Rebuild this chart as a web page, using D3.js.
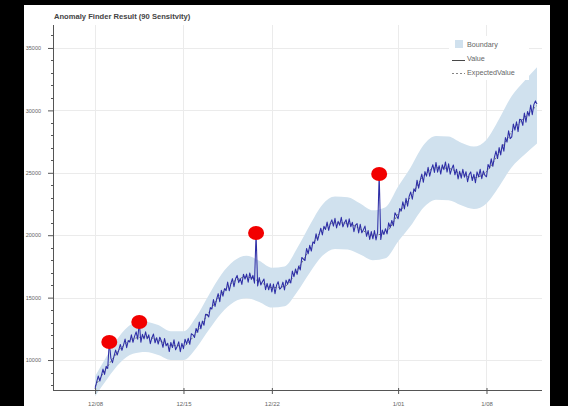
<!DOCTYPE html>
<html>
<head>
<meta charset="utf-8">
<script src="https://cdn.jsdelivr.net/npm/d3@7"></script>
<style>
  html, body { margin: 0; padding: 0; background: #000; }
  svg { display: block; }
  text { font-family: "Liberation Sans", Arial, Helvetica, sans-serif; }
</style>
</head>
<body>
<svg id="chart" width="568" height="406"></svg>
<script>
// Observed values, one every 3 hours from 2018-12-08 00:00 (one row per day)
const values = [
  7700, 8250, 8720, 8320, 8760, 9280, 8850, 9500,
  9320, 11440, 10150, 9790, 10320, 10800, 10400, 10800,
  11250, 10780, 11190, 11680, 10990, 11560, 11440, 12020,
  11420, 11900, 12260, 11670, 13050, 11420, 12060, 11690,
  12260, 11700, 12020, 11310, 11790, 12080, 11380, 11790,
  11280, 11830, 11530, 11020, 11730, 11140, 11350, 10680,
  11410, 11000, 11620, 10820, 11090, 11460, 10670, 11340,
  10910, 11670, 11300, 11740, 11260, 12110, 12020, 11810,
  12530, 12220, 13050, 12500, 13120, 12790, 13660, 13640,
  13450, 14200, 14090, 14840, 14290, 14870, 15320, 14670,
  15580, 15120, 15720, 15560, 16250, 15550, 16110, 16520,
  15880, 16510, 16780, 16200, 16530, 16060, 16870, 16490,
  16890, 16230, 16980, 16460, 16780, 16160, 20180, 15940,
  16610, 16020, 16270, 16490, 15640, 16140, 15630, 16120,
  15450, 16090, 15310, 16000, 16270, 15670, 15820, 16240,
  15620, 16400, 16080, 16480, 16170, 17130, 16680, 17300,
  16870, 17530, 17220, 18220, 18090, 17970, 18940, 18510,
  19190, 18730, 19460, 19340, 20120, 19590, 20090, 20560,
  20020, 20720, 20460, 21050, 20390, 20930, 21230, 20730,
  21350, 20580, 21110, 20800, 21440, 20670, 21000, 21240,
  20650, 21310, 20680, 21030, 20280, 20800, 20930, 20180,
  20880, 20190, 20440, 20730, 19910, 20370, 19660, 20290,
  19710, 20370, 19620, 20230, 24900, 19650, 20410, 20060,
  20520, 20110, 20990, 20620, 21180, 20750, 21800, 21570,
  21320, 22140, 21940, 22680, 22110, 22960, 22330, 23120,
  23460, 22880, 23720, 23510, 24410, 23770, 24390, 24900,
  24240, 25100, 24730, 25440, 24730, 25260, 25650, 25030,
  25830, 25050, 25570, 24900, 25640, 25250, 25870, 25060,
  25720, 24890, 25330, 25630, 24840, 25290, 24510, 25120,
  24570, 25280, 24650, 25090, 24280, 24860, 25070, 24380,
  24880, 24200, 25080, 24670, 25280, 24530, 25140, 24790,
  24680, 25670, 25390, 26120, 25520, 26240, 26740, 26140,
  27020, 26430, 27270, 26730, 27820, 27460, 28360, 27740,
  27880, 28910, 28420, 29090, 28300, 29280, 29250, 28800,
  29790, 29060, 29910, 29550, 30420, 29650, 30460, 30760,
  30500
];

// Daily expected value and boundary, from 2018-12-08 to 2019-01-12
const expected = [
  7900, 9500, 10900, 11700, 11850, 11600, 11150, 11150, 12200, 13800,
  15300, 16300, 16650, 16300, 15800, 15900, 17200, 18900, 20400, 21000,
  20950, 20500, 20000, 20200, 21700, 23100, 24700, 25400, 25350, 24900,
  24600, 25100, 26600, 28300, 29400, 30400
];
const upper = [
  8700, 10450, 12000, 12900, 13050, 12800, 12300, 12300, 13450, 15200,
  16850, 17950, 18350, 17950, 17400, 17500, 18950, 20800, 22450, 23100,
  23050, 22550, 22000, 22250, 23900, 25450, 27200, 27950, 27900, 27400,
  27100, 27650, 29300, 31150, 32350, 33450
];
const lower = [
  7100, 8550, 9800, 10500, 10650, 10400, 10000, 10000, 10950, 12400,
  13750, 14650, 14950, 14650, 14200, 14300, 15450, 17000, 18350, 18900,
  18850, 18450, 18000, 18150, 19500, 20750, 22200, 22850, 22800, 22400,
  22100, 22550, 23900, 25450, 26450, 27350
];

// Points flagged as anomalies
const anomalyTimes = ["2018-12-09T03:00", "2018-12-11T12:00", "2018-12-20T18:00", "2018-12-30T12:00"];
const anomalyValues = [11440, 13050, 20180, 24900];

// Axis ticks
const xTickDates = ["2018-12-08", "2018-12-15", "2018-12-22", "2019-01-01", "2019-01-08"];
const xTickLabels = ["12/08", "12/15", "12/22", "1/01", "1/08"];
const yTicks = [10000, 15000, 20000, 25000, 30000, 35000];
const yMinorTicks = [8000, 9000, 11000, 12000, 13000, 14000, 16000, 17000, 18000, 19000,
  21000, 22000, 23000, 24000, 26000, 27000, 28000, 29000, 31000, 32000, 33000, 34000, 36000];

const title = "Anomaly Finder Result (90 Sensitvity)";
const legendItems = ["Boundary", "Value", "ExpectedValue"];

const parse = s => new Date(s);
const start = new Date(2018, 11, 8, 0, 0);
const HOUR = 3600 * 1000;
const valueData = values.map((v, i) => ({ t: new Date(+start + i * 3 * HOUR), v }));
const dailyData = expected.map((e, i) => ({ t: new Date(+start + i * 24 * HOUR), e, hi: upper[i], lo: lower[i] }));
const anomalies = anomalyTimes.map((s, i) => ({ t: parse(s), v: anomalyValues[i] }));

const svg = d3.select("#chart");
const BAND = "#d0e1ee";

// white panel on the dark page
svg.append("rect").attr("x", 24).attr("y", 5).attr("width", 526).attr("height", 401).attr("fill", "#fff");

const L = 53, R = 542, T = 25, B = 390;
const x = d3.scaleTime()
  .domain([new Date(2018, 11, 4, 16, 0), new Date(2019, 0, 12, 9, 30)])
  .range([L, R]);
const y = d3.scaleLinear().domain([7600, 36840]).range([B, T]);

// grid
const grid = svg.append("g").attr("stroke", "#ebebeb").attr("stroke-width", 1);
grid.selectAll(".gy").data(yTicks).join("line")
  .attr("x1", L).attr("x2", R)
  .attr("y1", d => Math.round(y(d)) + 0.5).attr("y2", d => Math.round(y(d)) + 0.5);
grid.selectAll(".gx").data(xTickDates).join("line")
  .attr("y1", T).attr("y2", B)
  .attr("x1", d => Math.round(x(parse(d))) + 0.5).attr("x2", d => Math.round(x(parse(d))) + 0.5);

// boundary band
const band = d3.area()
  .x(d => x(d.t)).y0(d => y(d.lo)).y1(d => y(d.hi))
  .curve(d3.curveMonotoneX);
svg.append("path").datum(dailyData)
  .attr("d", band)
  .attr("fill", BAND);

// expected value (dashed)
svg.append("path").datum(dailyData)
  .attr("d", d3.line().x(d => x(d.t)).y(d => y(d.e)).curve(d3.curveMonotoneX))
  .attr("fill", "none").attr("stroke", "#555").attr("stroke-width", 0.8)
  .attr("stroke-dasharray", "2,2");

// observed value
svg.append("path").datum(valueData)
  .attr("d", d3.line().x(d => x(d.t)).y(d => y(d.v)))
  .attr("fill", "none").attr("stroke", "#2e2ea6").attr("stroke-width", 1.05)
  .attr("stroke-linejoin", "round");

// anomaly markers
svg.selectAll(".anom").data(anomalies).join("ellipse")
  .attr("cx", d => x(d.t)).attr("cy", d => y(d.v))
  .attr("rx", 8).attr("ry", 7)
  .attr("fill", "#f20000");

// y axis
const yAxis = svg.append("g").attr("transform", `translate(${L},0)`)
  .call(d3.axisLeft(y).tickValues(yTicks).tickFormat(d3.format("d")).tickSizeOuter(0).tickSize(5).tickPadding(7));
yAxis.select(".domain").attr("stroke", "#555").attr("d", `M0.5,${T}V${B}`);
yAxis.selectAll(".tick line").attr("stroke", "#555").attr("x2", -5).attr("x1", 1);
yAxis.selectAll(".tick text").attr("fill", "#666").attr("font-size", 5.5);
yAxis.append("g").selectAll("line").data(yMinorTicks.filter(v => y(v) >= T && y(v) <= B)).join("line")
  .attr("x1", -2).attr("x2", 1)
  .attr("y1", d => Math.round(y(d)) + 0.5).attr("y2", d => Math.round(y(d)) + 0.5)
  .attr("stroke", "#555");

// x axis
const xAxis = svg.append("g").attr("transform", `translate(0,${B})`)
  .call(d3.axisBottom(x).tickValues(xTickDates.map(parse))
    .tickFormat((d, i) => xTickLabels[i]).tickSizeOuter(0).tickSize(4).tickPadding(8));
xAxis.select(".domain").attr("stroke", "#555").attr("d", `M${L},0.5H${R}`);
xAxis.selectAll(".tick line").attr("stroke", "#555").attr("y1", -2).attr("y2", 4);
xAxis.selectAll(".tick text").attr("fill", "#666").attr("font-size", 6);

// title
svg.append("text").attr("x", 54).attr("y", 19)
  .attr("font-size", 7.6).attr("font-weight", "bold").attr("fill", "#444")
  .text(title);

// legend
const lg = svg.append("g");
lg.append("rect").attr("x", 449).attr("y", 36).attr("width", 80).attr("height", 44)
  .attr("fill", "#fff");
lg.append("rect").attr("x", 455).attr("y", 40).attr("width", 8).attr("height", 8)
  .attr("fill", BAND);
lg.append("line").attr("x1", 452).attr("x2", 465).attr("y1", 60.5).attr("y2", 60.5)
  .attr("stroke", "#333").attr("stroke-width", 0.9);
lg.append("line").attr("x1", 452).attr("x2", 465).attr("y1", 73.5).attr("y2", 73.5)
  .attr("stroke", "#666").attr("stroke-width", 0.8).attr("stroke-dasharray", "2,2");
lg.selectAll("text.lt").data(legendItems).join("text")
  .attr("x", 467).attr("y", (d, i) => 47 + i * 14)
  .attr("font-size", 7.2).attr("fill", "#666")
  .text(d => d);
</script>
</body>
</html>
